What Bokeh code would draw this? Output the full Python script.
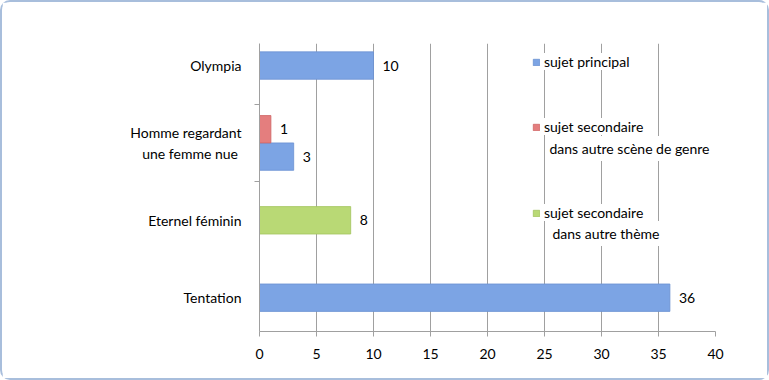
from bokeh.plotting import figure
from bokeh.models import Range1d, Legend, LegendItem, ColumnDataSource, FixedTicker, Label
from bokeh.transform import dodge
from bokeh.core.properties import value
from bokeh.embed import file_html
from bokeh.resources import INLINE

categories = ["Olympia", "Homme regardant\n une femme nue", "Eternel féminin", "Tentation"]
series_first_lines = ["sujet principal", "sujet secondaire", "sujet secondaire"]
series_second_lines = ["", "dans autre scène de genre", "dans autre thème"]
principal = [10, 3, None, 36]
secondaire_genre = [None, 1, None, None]
secondaire_theme = [None, None, 8, None]
x_ticks = [0, 5, 10, 15, 20, 25, 30, 35, 40]

series = [principal, secondaire_genre, secondaire_theme]
colors = ["#7ca4e4", "#e47e7e", "#b9d975"]
lines = ["#6a90d2", "#cf6464", "#a2c45e"]

FONT = "Lato"
n_cat = len(categories)
# category index from the bottom (Tentation = 0 ... Olympia = 3)
cat_pos = {c: n_cat - 1 - i for i, c in enumerate(categories)}

p = figure(width=769, height=380, output_backend="svg", toolbar_location=None,
           y_range=Range1d(-0.437, n_cat - 0.715),
           x_range=Range1d(0, 40),
           min_border_left=257, min_border_right=56, min_border_top=41, min_border_bottom=51)
p.styles = {"border": "2px solid #a8bedc", "border-radius": "10px", "box-sizing": "border-box"}
p.outline_line_color = None
p.background_fill_color = "white"
p.border_fill_color = "white"

bar_h = 0.354
renderers = {0: [], 1: [], 2: []}
for ci, cat in enumerate(categories):
    present = [si for si in range(3) if series[si][ci] is not None]
    n = len(present)
    for k, si in enumerate(present):
        off = (k - (n - 1) / 2) * bar_h
        src = ColumnDataSource(dict(y=[cat_pos[cat]], x=[series[si][ci]], lab=[str(series[si][ci])]))
        r = p.hbar(y=dodge("y", off), left=0, right="x", height=bar_h,
                   source=src, fill_color=colors[si], line_color=lines[si], line_width=0.8)
        renderers[si].append(r)
        p.text(x="x", y=dodge("y", off), text="lab", source=src,
               x_offset=9, text_baseline="middle", text_align="left",
               text_font=value(FONT), text_font_size="14px", text_color="black")

p.ygrid.grid_line_color = None
p.xgrid.grid_line_color = "#a0a0a0"
p.xgrid.ticker = FixedTicker(ticks=x_ticks)
p.xaxis.ticker = FixedTicker(ticks=x_ticks)
p.xaxis.axis_line_color = "#a0a0a0"
p.xaxis.major_tick_line_color = "#a0a0a0"
p.xaxis.major_tick_out = 5
p.xaxis.major_tick_in = 0
p.xaxis.minor_tick_line_color = None
p.xaxis.major_label_standoff = 12
p.xaxis.major_label_text_font = FONT
p.xaxis.major_label_text_font_size = "14px"
p.xaxis.major_label_text_color = "black"

p.yaxis.ticker = FixedTicker(ticks=sorted(cat_pos.values()), minor_ticks=[1.5, 2.5])
p.yaxis.major_label_overrides = {cat_pos[c]: c for c in categories}
p.yaxis.axis_line_color = "#a0a0a0"
p.yaxis.major_tick_line_color = None
p.yaxis.minor_tick_line_color = "#a0a0a0"
p.yaxis.minor_tick_out = 5
p.yaxis.minor_tick_in = 0
p.yaxis.major_label_standoff = 12
p.yaxis.major_label_text_font = FONT
p.yaxis.major_label_text_font_size = "14px"
p.yaxis.major_label_text_color = "black"

legend_locs = [(273, 261), (273, 196), (273, 110)]
second_locs = [None, (286, 183), (289, 98)]
for si in range(3):
    lg = Legend(items=[LegendItem(label=series_first_lines[si], renderers=renderers[si][:1])],
                location=legend_locs[si], glyph_width=8, glyph_height=8, label_standoff=4,
                padding=3, margin=0, spacing=0, border_line_color=None,
                background_fill_color="white", background_fill_alpha=1,
                label_text_font=FONT, label_text_font_size="14px", label_text_color="black")
    p.add_layout(lg, "center")
    if series_second_lines[si]:
        lx, ly = second_locs[si]
        p.add_layout(Label(x=lx, y=ly, x_units="screen", y_units="screen",
                           text=series_second_lines[si], text_baseline="middle",
                           text_font=FONT, text_font_size="14px", text_color="black",
                           background_fill_color="white", padding=4))

open("out.html", "w").write(file_html(p, INLINE))
